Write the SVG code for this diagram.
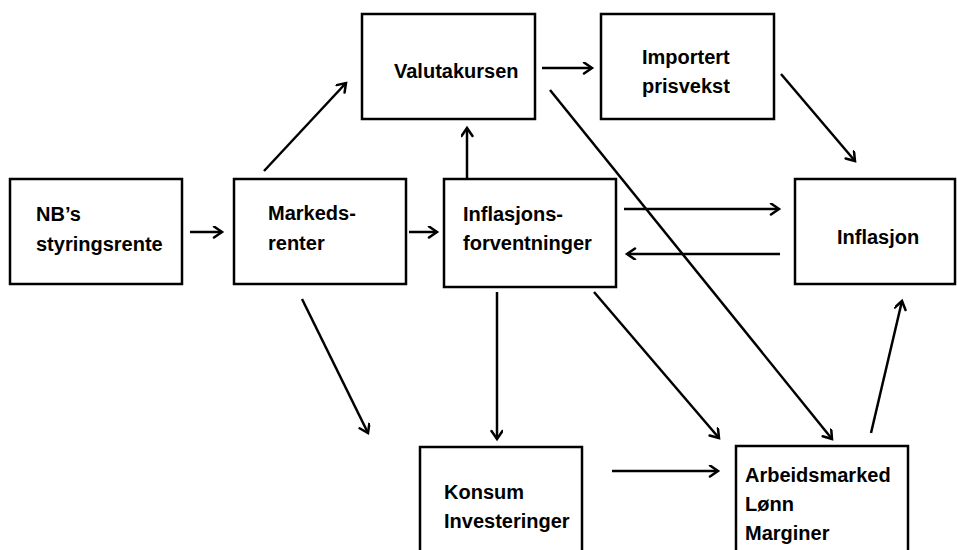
<svg xmlns="http://www.w3.org/2000/svg" width="957" height="550" viewBox="0 0 957 550">
<style>
.box{fill:#fff;stroke:#000;stroke-width:2.5}
.t{font-family:"Liberation Sans",Arial,sans-serif;font-weight:bold;font-size:20px;fill:#000}
.c line{stroke:#000;stroke-width:2.5;marker-end:url(#ah)}
</style>
<defs>
<marker id="ah" markerUnits="userSpaceOnUse" markerWidth="16" markerHeight="16" refX="10" refY="6" orient="auto">
<path d="M2,0.5 L10,6 L2,11.5" fill="none" stroke="#000" stroke-width="2.5" stroke-linecap="round" stroke-linejoin="miter"/>
</marker>
</defs>
<rect width="957" height="550" fill="#fff"/>
<g id="nb"><rect class="box" x="10" y="179" width="172" height="105"/><text class="t" x="36" y="221">NB’s</text><text class="t" x="36" y="251">styringsrente</text></g>
<g id="markeds"><rect class="box" x="234" y="179" width="172" height="105"/><text class="t" x="268" y="220">Markeds-</text><text class="t" x="268" y="250">renter</text></g>
<g id="inflforv"><rect class="box" x="444" y="179" width="172" height="108"/><text class="t" x="463" y="221">Inflasjons-</text><text class="t" x="463" y="250">forventninger</text></g>
<g id="valuta"><rect class="box" x="362" y="14" width="173" height="105"/><text class="t" x="394" y="78">Valutakursen</text></g>
<g id="import"><rect class="box" x="601" y="14" width="173" height="105"/><text class="t" x="642" y="64">Importert</text><text class="t" x="642" y="93">prisvekst</text></g>
<g id="inflasjon"><rect class="box" x="795" y="179" width="160" height="105"/><text class="t" x="837" y="244">Inflasjon</text></g>
<g id="konsum"><rect class="box" x="420" y="447" width="162" height="120"/><text class="t" x="444" y="499">Konsum</text><text class="t" x="444" y="528">Investeringer</text></g>
<g id="arbeid"><rect class="box" x="736" y="446" width="172" height="120"/><text class="t" x="745" y="482">Arbeidsmarked</text><text class="t" x="745" y="511">Lønn</text><text class="t" x="745" y="540">Marginer</text></g>
<g id="connectors" class="c">
<line x1="190" y1="232" x2="222" y2="232"/>
<line x1="409" y1="232" x2="437" y2="232"/>
<line x1="264" y1="171" x2="346" y2="83"/>
<line x1="467" y1="178" x2="467" y2="128"/>
<line x1="542" y1="68" x2="592" y2="68"/>
<line x1="550" y1="90" x2="832" y2="439"/>
<line x1="781" y1="74" x2="855" y2="161"/>
<line x1="624" y1="209" x2="779" y2="209"/>
<line x1="780" y1="254" x2="627" y2="254"/>
<line x1="302" y1="299" x2="368" y2="433"/>
<line x1="497" y1="292" x2="497" y2="439"/>
<line x1="594" y1="292" x2="719" y2="438"/>
<line x1="871" y1="433" x2="902" y2="301"/>
<line x1="612" y1="471" x2="718" y2="471"/>
</g>
</svg>
